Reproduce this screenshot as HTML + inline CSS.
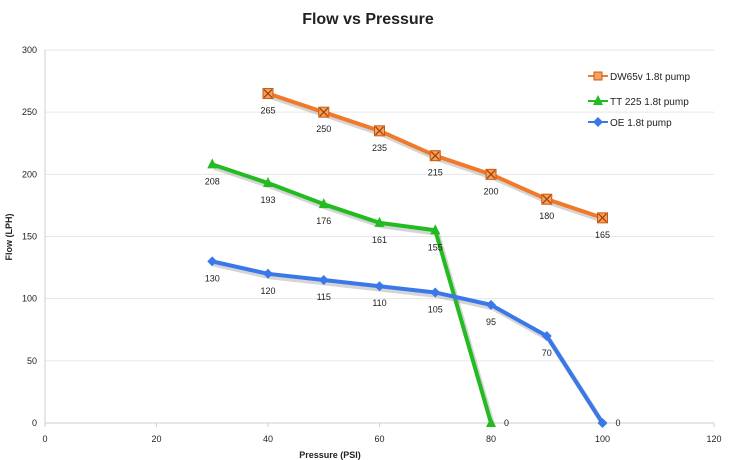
<!DOCTYPE html>
<html><head><meta charset="utf-8"><style>
body{margin:0;background:#fff;}
svg{display:block;font-family:"Liberation Sans",sans-serif;}
</style></head><body>
<svg id="c" width="737" height="460" xmlns="http://www.w3.org/2000/svg">
<text x="368" y="24" text-anchor="middle" font-size="16" font-weight="bold" fill="#222">Flow vs Pressure</text>
<text x="226" y="458" font-size="9" font-weight="bold" fill="#222" text-anchor="middle" transform="translate(104,0)">Pressure (PSI)</text>
<text transform="translate(12,237) rotate(-90)" font-size="9" font-weight="bold" fill="#222" text-anchor="middle">Flow (LPH)</text>
<g id="g"></g>
</svg>
<script>
const X=v=>45+v*5.575, Y=v=>423-v*1.2433;
let s='';
for(let v=0;v<=300;v+=50){const y=Y(v);
 s+=`<line x1="45" x2="714" y1="${y}" y2="${y}" stroke="${v?'#e6e6e6':'#cfcfcf'}" stroke-width="1"/>`;
 s+=`<text x="37" y="${y+3}" font-size="9" fill="#222" text-anchor="end">${v}</text>`;}
s+=`<line x1="45" x2="45" y1="50" y2="423" stroke="#cfcfcf"/>`;
for(let v=0;v<=120;v+=20){const x=X(v);
 s+=`<line x1="${x}" x2="${x}" y1="423" y2="427" stroke="#cfcfcf"/>`;
 s+=`<text x="${x}" y="442" font-size="9" fill="#222" text-anchor="middle">${v}</text>`;}
const series=[
 {c:'#f07a2a',m:'sq',d:[[40,265],[50,250],[60,235],[70,215],[80,200],[90,180],[100,165]]},
 {c:'#22bb22',m:'tri',d:[[30,208],[40,193],[50,176],[60,161],[70,155],[80,0]]},
 {c:'#3a78ea',m:'dia',d:[[30,130],[40,120],[50,115],[60,110],[70,105],[80,95],[90,70],[100,0]]}];
function mk(m,x,y,c){
 if(m=='sq')return `<rect x="${x-5}" y="${y-5}" width="10" height="10" fill="#f5a060" stroke="#c85a10"/><path d="M${x-4} ${y-4}L${x+4} ${y+4}M${x+4} ${y-4}L${x-4} ${y+4}" stroke="#a04000" stroke-width="1.2"/>`;
 if(m=='tri')return `<path d="M${x} ${y-6}L${x+5} ${y+4}L${x-5} ${y+4}Z" fill="${c}"/>`;
 return `<path d="M${x} ${y-5}L${x+5} ${y}L${x} ${y+5}L${x-5} ${y}Z" fill="${c}"/>`;}
for(const se of series){
 const pts=se.d.map(p=>X(p[0])+','+Y(p[1])).join(' ');
 s+=`<polyline points="${pts}" fill="none" stroke="#888" stroke-opacity="0.35" stroke-width="5" transform="translate(2,3)"/>`;
 s+=`<polyline points="${pts}" fill="none" stroke="${se.c}" stroke-width="4" stroke-linejoin="round"/>`;
 for(const p of se.d){const x=X(p[0]),y=Y(p[1]);s+=mk(se.m,x,y,se.c);
  if(p[1]==0)s+=`<text x="${x+13}" y="${y+3}" font-size="9" fill="#222">0</text>`;
  else s+=`<text x="${x}" y="${y+20}" font-size="9" fill="#222" text-anchor="middle">${p[1]}</text>`;}}
const lg=[['DW65v 1.8t pump',76,series[0]],['TT 225 1.8t pump',101,series[1]],['OE 1.8t pump',122,series[2]]];
for(const [t,y,se] of lg){s+=`<line x1="588" x2="608" y1="${y}" y2="${y}" stroke="${se.c}" stroke-width="2"/>`;
 s+=se.m=='sq'?`<rect x="594" y="${y-4}" width="8" height="8" fill="#f5a060" stroke="#c85a10"/>`:mk(se.m,598,y,se.c).replace(/-6L/,'-4L');
 s+=`<text x="610" y="${y+4}" font-size="10" fill="#222">${t}</text>`;}
document.getElementById('g').innerHTML=s;
</script>
</body></html>
